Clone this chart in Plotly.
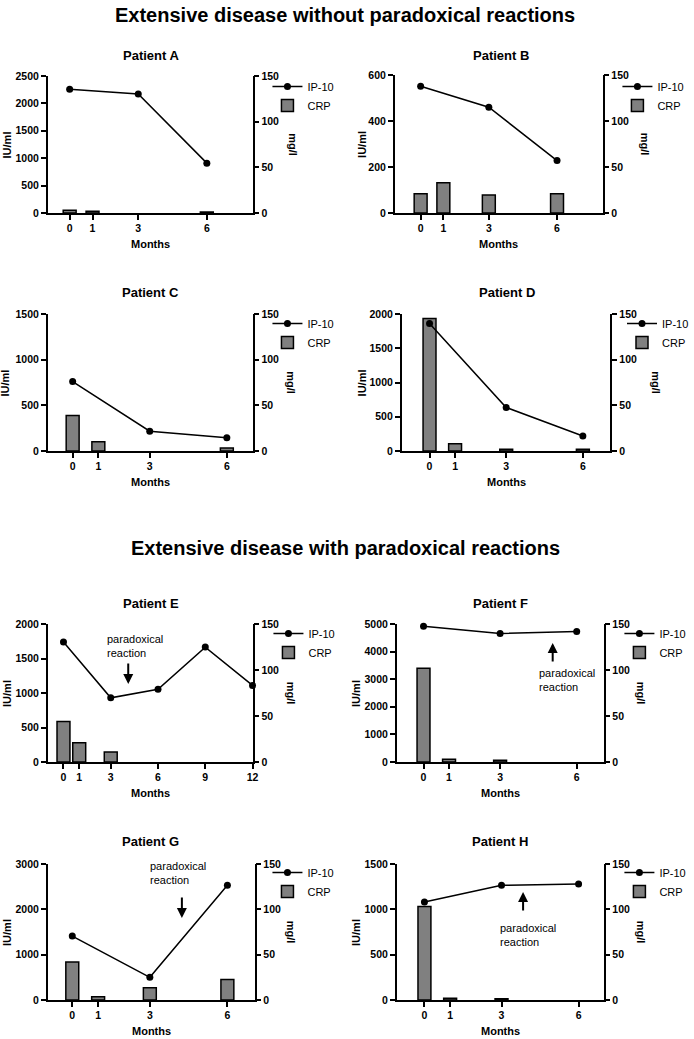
import plotly.graph_objects as go

W, H = 694, 1039
FONT = "Liberation Sans, Arial, Helvetica, sans-serif"

# ---------------- data ----------------
main_titles = ["Extensive disease without paradoxical reactions",
               "Extensive disease with paradoxical reactions"]
patients = ["Patient A", "Patient B", "Patient C", "Patient D",
            "Patient E", "Patient F", "Patient G", "Patient H"]

ip10_months_A = [0, 3, 6]
ip10_A = [2260, 2170, 910]
crp_months_A = [0, 1, 6]
crp_A = [3, 2, 1]

ip10_months_B = [0, 3, 6]
ip10_B = [551, 460, 228]
crp_months_B = [0, 1, 3, 6]
crp_B = [21, 33, 19.5, 21]

ip10_months_C = [0, 3, 6]
ip10_C = [760, 217, 145]
crp_months_C = [0, 1, 6]
crp_C = [39, 10, 3.3]

ip10_months_D = [0, 3, 6]
ip10_D = [1860, 635, 218]
crp_months_D = [0, 1, 3, 6]
crp_D = [145, 8, 2, 2]

ip10_months_E = [0, 3, 6, 9, 12]
ip10_E = [1740, 930, 1055, 1665, 1110]
crp_months_E = [0, 1, 3]
crp_E = [44, 21, 11]

ip10_months_F = [0, 3, 6]
ip10_F = [4920, 4660, 4730]
crp_months_F = [0, 1, 3]
crp_F = [102, 3, 2]

ip10_months_G = [0, 3, 6]
ip10_G = [1410, 500, 2530]
crp_months_G = [0, 1, 3, 6]
crp_G = [42, 3.6, 13.5, 22.5]

ip10_months_H = [0, 3, 6]
ip10_H = [1080, 1265, 1280]
crp_months_H = [0, 1, 3]
crp_H = [103, 2, 1.5]

month_ticks = [0, 1, 3, 6]
month_ticks_E = [0, 1, 3, 6, 9, 12]
iu_ticks_A = [0, 500, 1000, 1500, 2000, 2500]
iu_ticks_B = [0, 200, 400, 600]
iu_ticks_C = [0, 500, 1000, 1500]
iu_ticks_D = [0, 500, 1000, 1500, 2000]
iu_ticks_E = [0, 500, 1000, 1500, 2000]
iu_ticks_F = [0, 1000, 2000, 3000, 4000, 5000]
iu_ticks_G = [0, 1000, 2000, 3000]
iu_ticks_H = [0, 500, 1000, 1500]
mg_ticks = [0, 50, 100, 150]

series = [
    (ip10_months_A, ip10_A, crp_months_A, crp_A, month_ticks, iu_ticks_A),
    (ip10_months_B, ip10_B, crp_months_B, crp_B, month_ticks, iu_ticks_B),
    (ip10_months_C, ip10_C, crp_months_C, crp_C, month_ticks, iu_ticks_C),
    (ip10_months_D, ip10_D, crp_months_D, crp_D, month_ticks, iu_ticks_D),
    (ip10_months_E, ip10_E, crp_months_E, crp_E, month_ticks_E, iu_ticks_E),
    (ip10_months_F, ip10_F, crp_months_F, crp_F, month_ticks, iu_ticks_F),
    (ip10_months_G, ip10_G, crp_months_G, crp_G, month_ticks, iu_ticks_G),
    (ip10_months_H, ip10_H, crp_months_H, crp_H, month_ticks, iu_ticks_H),
]

# paradoxical reaction notes: (panel index, arrow month, arrow IU, direction, text month, text IU)
reaction_notes = [
    (4, 4.11, 1130, "down", 2.66, 1688),
    (5, 5.06, 4312, "up", 4.44, 2989),
    (6, 4.24, 1809, "down", 2.93, 2812),
    (7, 3.84, 1191, "up", 2.87, 722),
]

# ---------------- layout geometry (pixels) ----------------
# left axis x, right axis x, top y, bottom y, x range
geoms = [
    (48, 254, 76, 213, (-0.96, 8.0)),
    (397, 606, 75, 213, (-1.14, 8.0)),
    (48, 254, 314, 451, (-0.97, 7.0)),
    (404, 614, 314, 451, (-1.09, 7.08)),
    (48, 254, 624, 762, (-1.0, 12.0)),
    (399, 607, 624, 762, (-1.05, 7.05)),
    (48, 256, 864, 1000, (-0.95, 7.05)),
    (399, 607, 864, 1000, (-1.08, 6.97)),
]
title_pos = [(152, 55), (504, 55), (151, 292), (510, 292),
             (152, 603), (503, 603), (151, 841), (503, 841)]
iu_x = [7, 364, 6, 365, 7, 358, 7, 358]
mg_x = [295, 649, 292, 659, 293, 645, 293, 645]
legend_pos = [(269, 72), (621, 72), (269, 309), (626, 309),
              (270, 619), (623, 619), (269, 858), (623, 858)]
main_title_y = [15, 548]
BAR_PX = 13
TXT = "black"

def px(x):
    return x / W

def py(y):
    return 1 - y / H

fig = go.Figure()
annotations = []
layout = dict(template="none", width=W, height=H, margin=dict(l=0, r=0, t=0, b=0),
              plot_bgcolor="white", paper_bgcolor="white",
              font=dict(family=FONT, color=TXT), showlegend=True)

axis_common = dict(showline=True, linecolor="black", linewidth=1.5, mirror=False,
                   ticks="outside", ticklen=5, tickwidth=1.5, tickcolor="black",
                   showgrid=False, zeroline=False,
                   tickfont=dict(family=FONT, size=10.5, color=TXT, weight="bold"))

for i, (s, g) in enumerate(zip(series, geoms), start=1):
    ip_m, ip_v, crp_m, crp_v, mticks, iuticks = s
    left, right, top, bottom, xr = g
    xname = "xaxis" if i == 1 else f"xaxis{i}"
    xref = "x" if i == 1 else f"x{i}"
    bi, oi = 2 * i - 1, 2 * i
    bname = "yaxis" if bi == 1 else f"yaxis{bi}"
    bref = "y" if bi == 1 else f"y{bi}"
    oname = f"yaxis{oi}"
    oref = f"y{oi}"
    lname = "legend" if i == 1 else f"legend{i}"

    layout[xname] = dict(axis_common, domain=[px(left), px(right)], range=list(xr),
                         tickvals=mticks, anchor=bref)
    layout[bname] = dict(axis_common, domain=[py(bottom), py(top)], range=[0, 150],
                         tickvals=mg_ticks, side="right", anchor=xref)
    layout[oname] = dict(axis_common, range=[0, iuticks[-1]], tickvals=iuticks,
                         side="left", overlaying=bref, anchor=xref)

    ppm = (right - left) / (xr[1] - xr[0])
    fig.add_trace(go.Bar(x=crp_m, y=crp_v, width=BAR_PX / ppm, name="CRP",
                         marker=dict(color="#808080", line=dict(color="black", width=1.5)),
                         xaxis=xref, yaxis=bref, legend=lname, legendrank=2))
    fig.add_trace(go.Scatter(x=ip_m, y=ip_v, mode="lines+markers", name="IP-10",
                             line=dict(color="black", width=1.5),
                             marker=dict(color="black", size=7),
                             xaxis=xref, yaxis=oref, legend=lname, legendrank=1,
                             cliponaxis=False))

    lx, ly = legend_pos[i - 1]
    layout[lname] = dict(x=px(lx), y=py(ly), xanchor="left", yanchor="top",
                         bgcolor="rgba(0,0,0,0)", itemwidth=30,
                         font=dict(family=FONT, size=11, color=TXT),
                         traceorder="normal")

    tx, ty = title_pos[i - 1]
    annotations.append(dict(text=patients[i - 1], x=px(tx), y=py(ty), xref="paper", yref="paper",
                            showarrow=False, xanchor="center", yanchor="middle",
                            font=dict(family=FONT, size=13, weight="bold", color=TXT)))
    mid = (top + bottom) / 2
    annotations.append(dict(text="IU/ml", x=px(iu_x[i - 1]), y=py(mid), xref="paper", yref="paper",
                            showarrow=False, textangle=-90, xanchor="center", yanchor="middle",
                            font=dict(family=FONT, size=11, weight="bold", color=TXT)))
    annotations.append(dict(text="mg/l", x=px(mg_x[i - 1]), y=py(mid), xref="paper", yref="paper",
                            showarrow=False, textangle=90, xanchor="center", yanchor="middle",
                            font=dict(family=FONT, size=11, weight="bold", color=TXT)))
    annotations.append(dict(text="Months", x=px((left + right) / 2), y=py(bottom + 31),
                            xref="paper", yref="paper", showarrow=False,
                            xanchor="center", yanchor="middle",
                            font=dict(family=FONT, size=11, weight="bold", color=TXT)))

for t, y in zip(main_titles, main_title_y):
    annotations.append(dict(text=t, x=0.5, y=py(y), xref="paper", yref="paper",
                            showarrow=False, xanchor="center", yanchor="middle",
                            font=dict(family=FONT, size=20, weight="bold", color=TXT)))

for (pi, am, aiu, d, tm, tiu) in reaction_notes:
    i = pi + 1
    xref = "x" if i == 1 else f"x{i}"
    oref = f"y{2 * i}"
    annotations.append(dict(text="", x=am, y=aiu, xref=xref, yref=oref, showarrow=True,
                            ax=0, ay=(-22 if d == "down" else 20), arrowhead=2,
                            arrowsize=1, arrowwidth=2, arrowcolor="black"))
    annotations.append(dict(text="paradoxical<br>reaction", x=tm, y=tiu, xref=xref, yref=oref,
                            showarrow=False, xanchor="left", yanchor="middle", align="left",
                            font=dict(family=FONT, size=11, color=TXT)))

layout["annotations"] = annotations
fig.update_layout(**layout)
fig.write_html("out.html", config={"displayModeBar": False},
               post_script="document.body.style.margin='0';document.body.style.overflow='hidden';")
